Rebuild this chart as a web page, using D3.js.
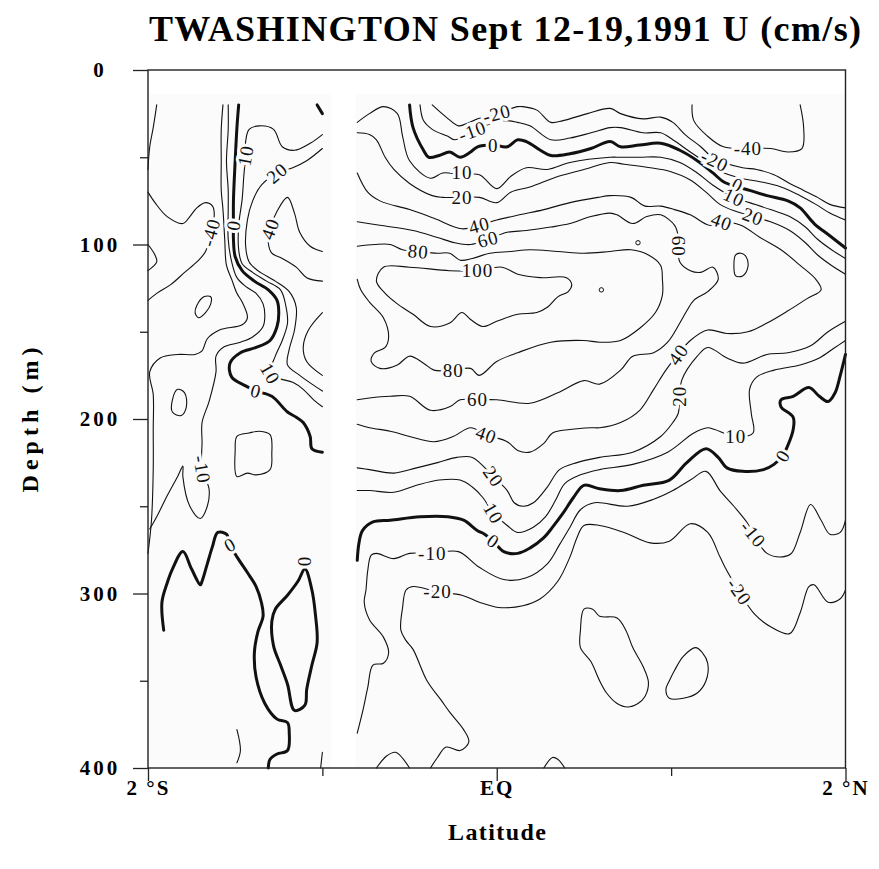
<!DOCTYPE html>
<html><head><meta charset="utf-8">
<script src="https://cdn.jsdelivr.net/npm/d3@7"></script>
<style>body{margin:0;background:#fff}</style>
</head><body>
<svg id="chart" width="879" height="869"></svg>
<script>
// ---------- axis data ----------
const depthMajor = [0,100,200,300,400];
const depthMinor = [50,150,250,350];
const latMajor = [-2,0,2];
const latMinor = [-1,1];
const latNames = ["2 °S","EQ","2 °N"];
const titleText = "TWASHINGTON Sept 12-19,1991 U (cm/s)";
const xTitle = "Latitude";
const yTitle = "Depth (m)";
// sampled sections (latitude ranges) and top depth of data
const sectionLat = [[-2,-0.95],[-0.81,2]];
const sectionDepth = [14,400];

// ---------- contour lines [lat, depth] ----------
// left section
const l_m40a = [[-1.95,20],[-1.97,33],[-1.99,44],[-2.0,57]];
const l_m40b = [[-2.0,70],[-1.96,76],[-1.89,84],[-1.8,88],[-1.76,84],[-1.72,79],[-1.67,76],[-1.63,78],[-1.62,83],[-1.64,93],[-1.67,104],[-1.72,110],[-1.79,116],[-1.87,123],[-1.95,128],[-2.0,132]];
const l_m40c = [[-2.0,100],[-1.96,106],[-1.95,110],[-2.0,115]];
const l_m20 = [[-1.57,20],[-1.58,34],[-1.58,52],[-1.58,69],[-1.57,80],[-1.56,97],[-1.55,112],[-1.52,120],[-1.49,128],[-1.46,133],[-1.43,142],[-1.46,146],[-1.59,149],[-1.66,154],[-1.69,161],[-1.73,163],[-1.83,163],[-1.93,165],[-1.99,173],[-1.97,186],[-1.97,206],[-1.97,229],[-1.98,258],[-2.0,277]];
const l_m10 = [[-1.54,20],[-1.54,34],[-1.55,52],[-1.54,69],[-1.54,80],[-1.54,97],[-1.52,110],[-1.49,119],[-1.44,124],[-1.38,128],[-1.34,134],[-1.33,141],[-1.34,147],[-1.40,153],[-1.47,156],[-1.57,159],[-1.61,164],[-1.61,173],[-1.65,190],[-1.69,202],[-1.69,213],[-1.69,229],[-1.65,240],[-1.66,250],[-1.70,257],[-1.76,250],[-1.80,233],[-1.80,227],[-1.83,233],[-1.89,244],[-1.95,256],[-1.99,263]];
const l_0 = [[-1.48,20],[-1.49,33],[-1.50,52],[-1.51,75],[-1.51,89],[-1.51,97],[-1.50,107],[-1.46,115],[-1.39,121],[-1.31,126],[-1.26,132],[-1.25,139],[-1.26,147],[-1.30,155],[-1.38,159],[-1.47,162],[-1.53,168],[-1.52,176],[-1.44,181],[-1.38,184],[-1.29,187],[-1.20,196],[-1.15,199],[-1.11,202],[-1.07,210],[-1.06,217],[-1.00,219]];
const l_10 = [[-1.00,37],[-1.07,42],[-1.16,46],[-1.23,44],[-1.28,34],[-1.36,32],[-1.42,34],[-1.44,41],[-1.44,49],[-1.45,60],[-1.46,74],[-1.48,89],[-1.48,103],[-1.46,111],[-1.40,116],[-1.32,121],[-1.24,126],[-1.21,135],[-1.20,145],[-1.23,155],[-1.27,164],[-1.30,174],[-1.24,177],[-1.17,179],[-1.11,183],[-1.05,189],[-1.00,193]];
const l_20 = [[-1.00,45],[-1.09,52],[-1.17,56],[-1.26,59],[-1.35,66],[-1.40,75],[-1.43,86],[-1.44,101],[-1.42,110],[-1.37,115],[-1.27,121],[-1.19,127],[-1.15,136],[-1.16,149],[-1.19,160],[-1.20,169],[-1.13,175],[-1.06,180],[-1.00,184]];
const l_40a = [[-1.00,104],[-1.07,101],[-1.13,93],[-1.16,82],[-1.20,73],[-1.26,81],[-1.30,91],[-1.31,99],[-1.29,105],[-1.23,108],[-1.15,113],[-1.09,119],[-1.00,121]];
const l_40b = [[-1.00,139],[-1.08,149],[-1.11,159],[-1.09,167],[-1.00,175]];
const l_ov1 = [[-1.68,130],[-1.64,130],[-1.64,134],[-1.67,139],[-1.71,142],[-1.73,139],[-1.72,135]];
const l_ov2 = [[-1.83,183],[-1.79,185],[-1.78,193],[-1.81,198],[-1.86,196],[-1.86,189]];
const l_box = [[-1.49,210],[-1.42,208],[-1.36,207],[-1.30,209],[-1.29,220],[-1.30,229],[-1.38,232],[-1.43,231],[-1.49,233],[-1.50,218]];
const l_0m = [[-1.91,321],[-1.92,305],[-1.89,294],[-1.86,286],[-1.80,276],[-1.75,286],[-1.70,295],[-1.69,293],[-1.66,283],[-1.63,273],[-1.60,265],[-1.55,266],[-1.53,272],[-1.49,279],[-1.43,288],[-1.38,296],[-1.35,305],[-1.34,313],[-1.37,322],[-1.39,334],[-1.38,348],[-1.33,363],[-1.26,372],[-1.20,374],[-1.19,380],[-1.20,390],[-1.26,392],[-1.30,395],[-1.31,400]];
const l_0loop = [[-1.10,286],[-1.06,298],[-1.04,312],[-1.03,328],[-1.06,341],[-1.09,355],[-1.10,364],[-1.16,367],[-1.20,352],[-1.24,341],[-1.28,330],[-1.29,316],[-1.27,309],[-1.20,301],[-1.14,293]];
const l_arc1 = [[-1.49,378],[-1.47,390],[-1.49,397]];
const l_arc2 = [[-1.00,391],[-1.01,400]];
const l_stub = [[-1.03,20],[-1.00,25]];
// right section
const r_m40 = [[1.12,20],[1.13,29],[1.21,38],[1.30,44],[1.44,45],[1.57,45],[1.67,47],[1.75,45],[1.76,33],[1.74,20]];
const r_m20 = [[-0.37,20],[-0.29,27],[-0.22,32],[-0.18,31],[-0.11,28],[0.0,25],[0.12,21],[0.15,21],[0.23,23],[0.31,30],[0.38,29],[0.52,25],[0.65,22],[0.71,25],[0.84,28],[0.94,27],[1.01,30],[1.08,37],[1.17,44],[1.25,51],[1.41,56],[1.49,57],[1.59,60],[1.68,65],[1.76,69],[1.84,73],[1.91,77],[2.0,79]];
const r_m10 = [[-0.44,20],[-0.42,29],[-0.37,34],[-0.28,38],[-0.24,40],[-0.14,35],[-0.04,31],[0.05,29],[0.12,30],[0.19,32],[0.31,40],[0.42,39],[0.54,36],[0.65,33],[0.71,33],[0.84,36],[0.94,36],[1.01,40],[1.11,47],[1.20,53],[1.28,58],[1.40,62],[1.51,64],[1.63,67],[1.74,72],[1.83,77],[1.91,82],[2.0,86]];
const r_0a = [[-0.50,20],[-0.48,33],[-0.42,46],[-0.39,50],[-0.33,49],[-0.27,47],[-0.21,50],[-0.15,47],[-0.11,44],[-0.02,43],[0.06,44],[0.12,40],[0.17,41],[0.25,46],[0.31,49],[0.42,48],[0.54,45],[0.65,41],[0.71,44],[0.82,43],[0.94,42],[1.05,46],[1.15,52],[1.24,59],[1.30,64],[1.38,67],[1.45,69],[1.55,72],[1.67,75],[1.74,79],[1.82,88],[1.91,95],[2.0,102]];
const r_10a = [[-0.80,30],[-0.73,25],[-0.65,21],[-0.57,25],[-0.54,38],[-0.50,52],[-0.38,62],[-0.31,59],[-0.20,60],[-0.10,60],[0.0,68],[0.08,61],[0.17,56],[0.29,57],[0.42,53],[0.65,50],[0.71,50],[0.82,50],[0.94,50],[1.05,53],[1.15,59],[1.24,66],[1.36,73],[1.45,76],[1.57,80],[1.68,84],[1.77,90],[1.84,97],[1.92,103],[2.0,108]];
const r_20a = [[-0.80,36],[-0.73,37],[-0.69,40],[-0.64,50],[-0.59,57],[-0.50,65],[-0.37,72],[-0.31,73],[-0.20,73],[-0.10,73],[0.0,76],[0.08,70],[0.19,67],[0.35,61],[0.50,57],[0.65,53],[0.73,54],[0.88,56],[0.99,58],[1.11,63],[1.20,70],[1.28,77],[1.37,81],[1.47,84],[1.57,87],[1.68,92],[1.77,99],[1.84,106],[1.92,112],[2.0,117]];
const r_40 = [[-0.80,59],[-0.74,70],[-0.67,75],[-0.50,80],[-0.36,85],[-0.20,91],[-0.10,89],[0.0,86],[0.13,83],[0.27,80],[0.42,76],[0.58,73],[0.65,72],[0.77,73],[0.85,78],[0.94,78],[1.02,80],[1.11,83],[1.22,89],[1.29,87],[1.40,89],[1.51,96],[1.63,103],[1.74,112],[1.83,120],[1.86,126],[1.78,131],[1.67,138],[1.55,145],[1.44,150],[1.32,151],[1.21,149],[1.11,155],[1.04,163],[0.97,172],[0.90,183],[0.82,195],[0.71,202],[0.59,205],[0.54,205],[0.42,206],[0.32,208],[0.27,214],[0.19,219],[0.12,218],[0.06,213],[-0.06,209],[-0.15,205],[-0.25,210],[-0.36,213],[-0.50,210],[-0.61,207],[-0.73,205],[-0.80,203]];
const r_60 = [[-0.80,87],[-0.67,89],[-0.48,92],[-0.34,96],[-0.24,99],[-0.15,100],[-0.05,97],[0.06,93],[0.17,92],[0.31,90],[0.42,88],[0.54,84],[0.65,82],[0.69,83],[0.78,88],[0.86,84],[0.94,83],[1.02,89],[1.04,95],[1.04,101],[1.05,110],[1.11,115],[1.17,116],[1.24,113],[1.27,120],[1.21,127],[1.13,132],[1.09,138],[1.05,145],[0.98,156],[0.90,162],[0.78,164],[0.71,172],[0.59,180],[0.50,178],[0.35,185],[0.19,191],[0.0,189],[-0.11,189],[-0.21,189],[-0.27,193],[-0.38,195],[-0.50,187],[-0.61,187],[-0.73,188],[-0.80,189]];
const r_60ov = [[1.40,105],[1.43,107],[1.44,113],[1.41,118],[1.37,118],[1.36,112],[1.37,106]];
const r_80 = [[-0.80,101],[-0.70,100],[-0.61,100],[-0.54,103],[-0.45,104],[-0.34,105],[-0.27,105],[-0.21,109],[-0.14,108],[-0.04,105],[0.08,104],[0.19,103],[0.35,104],[0.50,105],[0.65,104],[0.77,103],[0.87,106],[0.94,112],[0.95,120],[0.95,129],[0.91,139],[0.82,148],[0.71,155],[0.59,156],[0.50,155],[0.31,156],[0.12,162],[0.0,167],[-0.10,175],[-0.15,171],[-0.25,172],[-0.36,172],[-0.42,168],[-0.50,164],[-0.57,169],[-0.67,171],[-0.72,167],[-0.70,162],[-0.64,159],[-0.62,153],[-0.65,142],[-0.73,133],[-0.78,126],[-0.80,120]];
const r_100 = [[-0.65,113],[-0.50,113],[-0.27,115],[-0.11,115],[0.03,113],[0.12,117],[0.25,119],[0.40,119],[0.43,123],[0.41,127],[0.35,130],[0.29,136],[0.23,139],[0.12,140],[0.0,144],[-0.08,147],[-0.15,143],[-0.20,139],[-0.27,145],[-0.38,147],[-0.48,140],[-0.57,134],[-0.64,128],[-0.69,121]];
const r_tiny = [[0.60,126],[0.81,99]];
const r_20b = [[-0.80,228],[-0.73,229],[-0.59,231],[-0.46,228],[-0.34,225],[-0.23,222],[-0.14,222],[-0.02,233],[0.06,241],[0.10,248],[0.15,250],[0.21,248],[0.29,239],[0.36,229],[0.46,225],[0.59,222],[0.78,219],[0.94,210],[1.01,202],[1.04,197],[1.05,187],[1.06,178],[1.15,164],[1.21,159],[1.32,165],[1.41,168],[1.55,163],[1.67,162],[1.80,158],[1.90,150],[2.0,144]];
const r_10b = [[-0.80,241],[-0.73,241],[-0.59,242],[-0.46,238],[-0.33,235],[-0.21,235],[-0.14,239],[-0.08,245],[-0.02,254],[0.06,261],[0.12,265],[0.21,262],[0.28,256],[0.34,246],[0.39,237],[0.48,232],[0.59,229],[0.78,226],[0.98,219],[1.13,208],[1.21,205],[1.25,206],[1.37,210],[1.47,208],[1.46,197],[1.45,183],[1.49,176],[1.59,172],[1.74,169],[1.85,165],[1.94,159],[2.0,155]];
const r_0b = [[-0.80,281],[-0.79,271],[-0.77,264],[-0.71,259],[-0.61,258],[-0.44,256],[-0.28,256],[-0.19,258],[-0.11,264],[-0.07,266],[-0.02,270],[0.04,276],[0.12,277],[0.19,274],[0.27,268],[0.32,262],[0.38,254],[0.44,245],[0.50,238],[0.59,240],[0.71,241],[0.84,238],[0.99,235],[1.09,225],[1.20,217],[1.27,222],[1.32,228],[1.41,230],[1.53,229],[1.59,226],[1.64,221],[1.67,215],[1.70,206],[1.70,199],[1.63,193],[1.63,189],[1.70,187],[1.79,182],[1.85,187],[1.90,190],[1.94,185],[1.97,175],[2.0,163]];
const r_m10b = [[-0.80,380],[-0.77,368],[-0.74,354],[-0.71,341],[-0.65,340],[-0.62,334],[-0.65,325],[-0.73,315],[-0.76,305],[-0.75,298],[-0.74,287],[-0.72,278],[-0.69,277],[-0.59,280],[-0.50,277],[-0.37,277],[-0.22,276],[-0.10,285],[0.04,292],[0.17,291],[0.29,283],[0.36,272],[0.42,262],[0.48,252],[0.56,248],[0.75,250],[0.90,246],[1.01,241],[1.11,235],[1.20,230],[1.28,241],[1.36,250],[1.44,260],[1.47,266],[1.55,277],[1.64,279],[1.69,277],[1.74,265],[1.80,249],[1.86,258],[1.91,266],[1.97,265],[2.0,258]];
const r_m20b = [[-0.38,400],[-0.34,394],[-0.29,388],[-0.21,390],[-0.16,385],[-0.19,378],[-0.27,368],[-0.32,361],[-0.40,350],[-0.48,332],[-0.52,327],[-0.55,321],[-0.54,308],[-0.52,298],[-0.48,296],[-0.34,299],[-0.20,301],[-0.10,305],[0.01,308],[0.15,307],[0.25,303],[0.35,293],[0.42,279],[0.46,268],[0.50,261],[0.59,261],[0.73,265],[0.88,271],[0.99,270],[1.11,260],[1.21,265],[1.28,279],[1.32,287],[1.39,299],[1.48,312],[1.57,319],[1.68,323],[1.74,311],[1.79,296],[1.82,295],[1.90,305],[1.97,303],[2.0,298]];
const r_bot1 = [[-0.69,400],[-0.63,393],[-0.58,391],[-0.50,400]];
const r_bot2 = [[0.27,400],[0.32,394],[0.35,395],[0.39,400]];
const r_blob1 = [[0.50,309],[0.55,309],[0.59,313],[0.69,314],[0.74,321],[0.78,331],[0.84,342],[0.87,351],[0.85,359],[0.81,363],[0.75,365],[0.69,363],[0.63,357],[0.59,350],[0.54,339],[0.48,331],[0.48,321]];
const r_blob2 = [[1.14,331],[1.18,334],[1.21,340],[1.20,350],[1.15,357],[1.07,360],[0.99,360],[0.97,355],[0.99,350],[1.02,344],[1.07,336]];

// [level, points, closed]
const contourLines = [
  [-40,l_m40a,false],[-40,l_m40b,false],[-40,l_m40c,false],[-20,l_m20,false],[-10,l_m10,false],
  [0,l_0,false],[10,l_10,false],[20,l_20,false],[40,l_40a,false],[40,l_40b,false],
  [-40,l_ov1,true],[-20,l_ov2,true],[-10,l_box,true],[0,l_0m,false],[0,l_0loop,true],
  [-10,l_arc1,false],[-10,l_arc2,false],[0,l_stub,false],
  [-40,r_m40,false],[-20,r_m20,false],[-10,r_m10,false],[0,r_0a,false],[10,r_10a,false],
  [20,r_20a,false],[40,r_40,false],[60,r_60,false],[60,r_60ov,true],[80,r_80,false],[100,r_100,true],
  [20,r_20b,false],[10,r_10b,false],[0,r_0b,false],[-10,r_m10b,false],[-20,r_m20b,false],
  [-20,r_bot1,false],[-20,r_bot2,false],[-20,r_blob1,true],[-20,r_blob2,true]
];

// contour labels: [text, lat, depth, angle]
const contourLabels = [
  ["-40",-1.64,93,-75],["0",-1.51,89,-80],["10",-1.44,49,-80],["20",-1.26,59,-40],["40",-1.30,91,-70],
  ["0",-1.38,184,15],["10",-1.30,174,60],["-10",-1.69,229,80],["0",-1.53,272,-30],["0",-1.10,282,90],
  ["-10",-0.14,35,-20],["-20",0.0,25,-15],["0",-0.02,43,0],["10",-0.20,59,0],["20",-0.20,73,0],
  ["40",-0.10,89,-15],["60",-0.05,97,-15],["80",-0.45,104,5],["100",-0.11,115,0],
  ["-40",1.44,45,0],["-20",1.25,52,25],["0",1.38,66,25],["10",1.36,73,25],["20",1.47,84,20],
  ["40",1.29,87,20],["60",1.04,101,90],["80",-0.25,172,0],["60",-0.11,189,0],["40",-0.06,209,20],
  ["20",-0.02,233,55],["10",-0.02,254,60],["0",-0.02,270,35],["40",1.04,163,-55],["20",1.05,187,-90],
  ["10",1.37,210,0],["0",1.64,221,-60],["-10",-0.37,277,0],["-20",-0.34,299,0],["-10",1.47,266,50],["-20",1.39,299,55]
];

// ---------- drawing ----------
const svg = d3.select('#chart');
const x = d3.scaleLinear().domain([-2,2]).range([148,845.5]);
const y = d3.scaleLinear().domain([0,400]).range([70,768]);
const serif = "'Liberation Serif','Times New Roman',Times,serif";
const bg = '#fbfbfb';

svg.append('rect').attr('width',879).attr('height',869).attr('fill','#fff');
svg.selectAll('rect.sec').data(sectionLat).join('rect').attr('class','sec')
  .attr('x',d=>x(d[0])).attr('width',d=>x(d[1])-x(d[0]))
  .attr('y',y(sectionDepth[0])).attr('height',y(sectionDepth[1])-y(sectionDepth[0]))
  .attr('fill',bg);

const lineOpen = d3.line().x(d=>x(d[0])).y(d=>y(d[1])).curve(d3.curveCatmullRom.alpha(0.5));
const lineClosed = d3.line().x(d=>x(d[0])).y(d=>y(d[1])).curve(d3.curveCatmullRomClosed.alpha(0.5));

const gC = svg.append('g');
gC.selectAll('path').data(contourLines).join('path')
  .attr('d',d=>d[2]?lineClosed(d[1]):lineOpen(d[1]))
  .attr('fill','none').attr('stroke','#111')
  .attr('stroke-width',d=>d[0]===0?3:1.1)
  .attr('stroke-linejoin','round').attr('stroke-linecap','round');

gC.selectAll('circle').data(r_tiny).join('circle')
  .attr('cx',d=>x(d[0])).attr('cy',d=>y(d[1])).attr('r',2.2)
  .attr('fill','none').attr('stroke','#111').attr('stroke-width',1);

svg.append('g').selectAll('text').data(contourLabels).join('text')
  .attr('transform',d=>`translate(${x(d[1])},${y(d[2])}) rotate(${d[3]})`)
  .attr('text-anchor','middle').attr('dominant-baseline','central')
  .attr('font-family',serif).attr('font-size',19).attr('letter-spacing',1)
  .attr('fill','#111').attr('stroke',bg).attr('stroke-width',6).attr('paint-order','stroke')
  .text(d=>d[0]);

// frame
svg.append('rect').attr('x',x(-2)).attr('y',y(0)).attr('width',x(2)-x(-2)).attr('height',y(400)-y(0))
  .attr('fill','none').attr('stroke','#222').attr('stroke-width',1.4);

// y axis
const gy = svg.append('g').attr('transform',`translate(${x(-2)},0)`)
  .call(d3.axisLeft(y).tickValues(depthMajor).tickSize(15).tickFormat(d=>d));
const gy2 = svg.append('g').attr('transform',`translate(${x(-2)},0)`)
  .call(d3.axisLeft(y).tickValues(depthMinor).tickSize(8).tickFormat(''));
[gy,gy2].forEach(g=>{g.select('.domain').remove(); g.selectAll('line').attr('stroke','#222').attr('stroke-width',1.3);});
gy.selectAll('text').attr('x',-48).attr('text-anchor','middle')
  .attr('font-family',serif).attr('font-weight','bold').attr('font-size',21).attr('letter-spacing',3).attr('fill','#000');

// x axis
const gx = svg.append('g').attr('transform',`translate(0,${y(400)})`)
  .call(d3.axisBottom(x).tickValues(latMajor).tickSize(13).tickFormat((d,i)=>latNames[i]));
const gx2 = svg.append('g').attr('transform',`translate(0,${y(400)})`)
  .call(d3.axisBottom(x).tickValues(latMinor).tickSize(8).tickFormat(''));
[gx,gx2].forEach(g=>{g.select('.domain').remove(); g.selectAll('line').attr('stroke','#222').attr('stroke-width',1.3);});
gx.selectAll('text').attr('y',12)
  .attr('font-family',serif).attr('font-weight','bold').attr('font-size',21).attr('letter-spacing',2).attr('fill','#000');

// titles
svg.append('text').attr('x',505).attr('y',41).attr('text-anchor','middle')
  .attr('font-family',serif).attr('font-weight','bold').attr('font-size',36)
  .attr('textLength',712).attr('lengthAdjust','spacing').text(titleText);
svg.append('text').attr('x',497).attr('y',840).attr('text-anchor','middle')
  .attr('font-family',serif).attr('font-weight','bold').attr('font-size',24)
  .attr('textLength',98).attr('lengthAdjust','spacing').text(xTitle);
svg.append('text').attr('transform','translate(38,420) rotate(-90)').attr('text-anchor','middle')
  .attr('font-family',serif).attr('font-weight','bold').attr('font-size',24)
  .attr('textLength',145).attr('lengthAdjust','spacing').text(yTitle);
</script>
</body></html>
